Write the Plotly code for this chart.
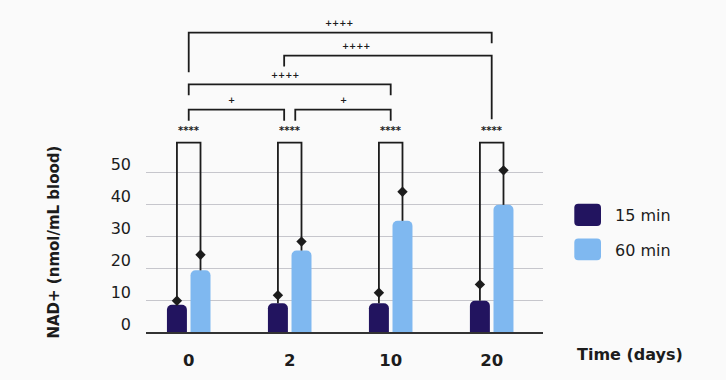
import plotly.graph_objects as go

# ---------------- data ----------------
days = ["0", "2", "10", "20"]
series_names = ["15 min", "60 min"]
nad_15 = [8.5, 9.0, 9.0, 9.8]
sd_15 = [1.3, 2.5, 3.3, 5.1]
nad_60 = [19.3, 25.5, 34.8, 39.8]
sd_60 = [4.9, 2.8, 9.1, 10.8]
y_ticks = [0, 10, 20, 30, 40, 50]
within_labels = ["****", "****", "****", "****"]
# between-day comparisons: (group a, group b, label)
between = [(0, 1, "+"), (1, 2, "+"), (0, 2, "++++"), (1, 3, "++++"), (0, 3, "++++")]

# ---------------- style ----------------
DARK = "#22145F"
LIGHT = "#7FB8F0"
INK = "#1c1c1c"
FONT = "DejaVu Sans"
W, H = 726, 380
L, R, T, B = 146, 183, 10, 46
BARGAP, GROUPGAP = 0.533, 0.153
slot = (1 - BARGAP) / 2
off = slot / 2
xpos = list(range(len(days)))

fig = go.Figure()
fig.add_trace(go.Bar(
    x=xpos, y=nad_15, name=series_names[0], marker=dict(color=DARK, line=dict(width=0)),
    error_y=dict(type="data", symmetric=False, array=sd_15, arrayminus=[0] * 4,
                 color=INK, thickness=1.8, width=0),
))
fig.add_trace(go.Bar(
    x=xpos, y=nad_60, name=series_names[1], marker=dict(color=LIGHT, line=dict(width=0)),
    error_y=dict(type="data", symmetric=False, array=sd_60, arrayminus=[0] * 4,
                 color=INK, thickness=1.8, width=0),
))
# diamond caps
top15 = [v + e for v, e in zip(nad_15, sd_15)]
top60 = [v + e for v, e in zip(nad_60, sd_60)]
fig.add_trace(go.Scatter(x=[i - off for i in xpos], y=top15, mode="markers",
                         marker=dict(symbol="diamond", size=8, color=INK), hoverinfo="skip"))
fig.add_trace(go.Scatter(x=[i + off for i in xpos], y=top60, mode="markers",
                         marker=dict(symbol="diamond", size=8, color=INK), hoverinfo="skip"))

shapes = []
annotations = []
LW = 1.8

def bracket(x0, yb0, x1, yb1, yt):
    return dict(type="path", xref="x", yref="y",
                path=f"M {x0},{yb0} L {x0},{yt} L {x1},{yt} L {x1},{yb1}",
                line=dict(color=INK, width=LW))

# within-day brackets
Y_IN = 59.3
for i in xpos:
    shapes.append(bracket(i - off, top15[i], i + off, top60[i], Y_IN))
    annotations.append(dict(x=i, y=Y_IN + 3.9, xref="x", yref="y", text=within_labels[i],
                            showarrow=False, font=dict(family=FONT, size=10, color=INK, weight=700)))

# between-day brackets (levels in data units)
geom = [
    # x0, bottom-left, x1, bottom-right, top, label-x, label-y
    (0.0, 66.1, 0.945, 66.1, 69.6, 0.42, 72.6),
    (1.055, 66.1, 2.0, 66.1, 69.6, 1.53, 72.6),
    (0.0, 74.1, 2.0, 74.1, 77.5, 0.96, 80.5),
    (0.945, 83.1, 3.0, 66.6, 86.5, 1.66, 89.5),
    (0.0, 81.3, 3.0, 90.4, 93.7, 1.49, 96.8),
]
for (a, b, lab), (x0, yb0, x1, yb1, yt, lx, ly) in zip(between, geom):
    shapes.append(bracket(x0, yb0, x1, yb1, yt))
    annotations.append(dict(x=lx, y=ly, xref="x", yref="y", text=lab, showarrow=False,
                            font=dict(family=FONT, size=8.5, color=INK, weight=700)))

# custom legend with rounded squares
pw, ph = W - L - R, H - T - B
def px(xp):
    return (xp - L) / pw
def py(yp):
    return (H - B - yp) / ph

def rrect(x0, y0, x1, y1, r, color):
    a, b_, c, d = px(x0), px(x1), py(y0), py(y1)
    rx, ry = r / pw, r / ph
    path = (f"M {a+rx},{c} L {b_-rx},{c} Q {b_},{c} {b_},{c-ry} L {b_},{d+ry} "
            f"Q {b_},{d} {b_-rx},{d} L {a+rx},{d} Q {a},{d} {a},{d+ry} L {a},{c-ry} Q {a},{c} {a+rx},{c} Z")
    return dict(type="path", xref="paper", yref="paper", path=path,
                fillcolor=color, line=dict(width=0))

shapes.append(rrect(574.3, 205, 601, 227.3, 4, DARK))
shapes.append(rrect(574.3, 240, 601, 261.7, 4, LIGHT))
annotations.append(dict(x=px(613), y=py(216.5), xref="paper", yref="paper", text=series_names[0],
                        showarrow=False, xanchor="left", yanchor="middle",
                        font=dict(family=FONT, size=16, color=INK)))
annotations.append(dict(x=px(613), y=py(251.5), xref="paper", yref="paper", text=series_names[1],
                        showarrow=False, xanchor="left", yanchor="middle",
                        font=dict(family=FONT, size=16, color=INK)))
# axis titles
annotations.append(dict(x=px(630), y=py(357), xref="paper", yref="paper", text="Time (days)",
                        showarrow=False, xanchor="center", yanchor="middle",
                        font=dict(family=FONT, size=16, color=INK, weight=700)))
annotations.append(dict(x=px(54), y=py(244), xref="paper", yref="paper",
                        text="NAD+ (nmol/mL blood)", textangle=-90, showarrow=False,
                        xanchor="center", yanchor="middle",
                        font=dict(family=FONT, size=15, color=INK, weight=600)))

fig.update_layout(
    width=W, height=H, margin=dict(l=L, r=R, t=T, b=B, pad=0),
    paper_bgcolor="#FAFAFA", plot_bgcolor="#FAFAFA",
    barmode="group", bargap=BARGAP, bargroupgap=GROUPGAP, barcornerradius=5,
    showlegend=False, shapes=shapes, annotations=annotations,
    xaxis=dict(range=[-0.423, 3.508], tickvals=xpos, ticktext=days, showgrid=False,
               zeroline=False, showline=True, linecolor="#333333", linewidth=1.5,
               ticks="", ticklabelstandoff=12,
               tickfont=dict(family=FONT, size=16.5, color=INK, weight=700)),
    yaxis=dict(range=[0, 100.8], tickvals=y_ticks, showgrid=True, gridcolor="#C6C6CC",
               gridwidth=1.2, zeroline=False, showline=False, ticks="",
               ticklabelshift=-8, ticklabelstandoff=14,
               tickfont=dict(family=FONT, size=16, color=INK)),
)

fig.write_html("out.html", config={"displayModeBar": False},
               post_script="document.body.style.margin='0';document.body.style.background='#FAFAFA';")
